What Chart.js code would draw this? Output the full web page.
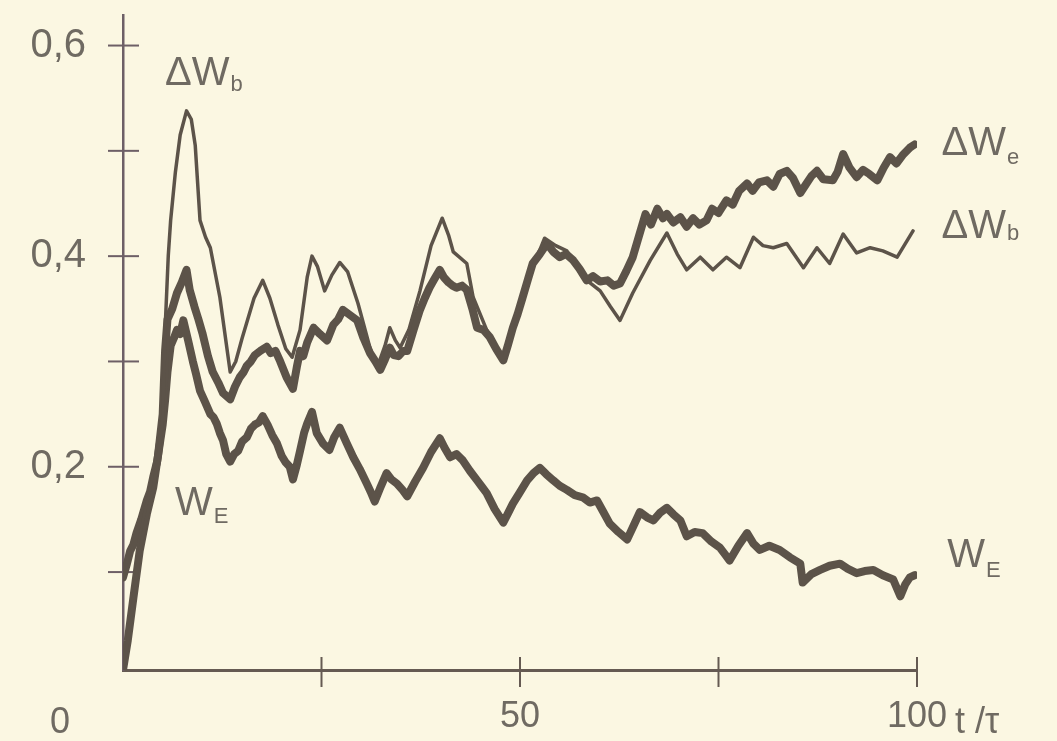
<!DOCTYPE html>
<html>
<head>
<meta charset="utf-8">
<script src="https://cdn.jsdelivr.net/npm/chart.js@4.4.1/dist/chart.umd.min.js"></script>
<style>
  html, body { margin: 0; padding: 0; background: #fbf7e2; }
  canvas { display: block; }
</style>
</head>
<body>
<canvas id="chart" width="1057" height="741"></canvas>
<script>
// dimensionless time t/τ and energies

// ΔW_b (thin curve)
const tWb = [0, 0.6, 1.3, 2.1, 3.0, 3.8, 4.4, 5.0, 5.3, 5.7, 6.0, 6.6, 7.2, 8.0, 8.6, 9.1, 9.7, 10.4, 11.0, 12.2,
  13.5, 14.2, 15.0, 16.5, 17.6, 18.5, 19.5, 20.5, 21.3, 22.3, 23.2, 23.8, 24.5, 25.4, 26.3, 27.3, 28.3, 29.6, 31.1, 32.0,
  33.0, 33.6, 34.3, 34.9, 36.0, 37.4, 38.8, 40.2, 41.0, 41.6, 43.3, 44.1, 45.8, 47.9, 49.1, 50.3, 51.6, 53.1, 54.5, 55.9,
  57.9, 60.1, 61.4, 62.6, 64.2, 66.4, 68.5, 69.8, 71.0, 72.7, 74.3, 76.0, 77.7, 79.4, 80.6, 81.9, 83.6, 85.7, 87.4, 89.0,
  90.7, 92.4, 94.1, 95.7, 97.5, 99.5];
const vWb = [0.007, 0.035, 0.073, 0.12, 0.152, 0.178, 0.206, 0.247, 0.33, 0.40, 0.434, 0.48, 0.515, 0.538, 0.53, 0.505, 0.434, 0.418, 0.408, 0.361,
  0.29, 0.30, 0.322, 0.36, 0.377, 0.36, 0.335, 0.312, 0.304, 0.33, 0.38, 0.40, 0.39, 0.367, 0.382, 0.394, 0.385, 0.355, 0.313, 0.294,
  0.315, 0.332, 0.32, 0.313, 0.33, 0.367, 0.41, 0.436, 0.42, 0.404, 0.393, 0.361, 0.33, 0.30, 0.336, 0.36, 0.389, 0.417, 0.41, 0.405,
  0.38, 0.367, 0.352, 0.339, 0.365, 0.396, 0.422, 0.402, 0.387, 0.399, 0.387, 0.399, 0.389, 0.418, 0.41, 0.408, 0.412, 0.389, 0.408, 0.393,
  0.421, 0.403, 0.408, 0.405, 0.399, 0.424];

// ΔW_e (thick upper curve)
const tWe = [0, 0.6, 1.3, 2.1, 3.0, 3.8, 4.4, 5.0, 5.3, 5.6, 6.2, 6.8, 7.4, 8.0, 8.4, 9.0, 9.5, 10.0, 10.7, 11.3,
  12.0, 12.6, 13.5, 14.1, 14.7, 15.2, 15.6, 16.1, 16.6, 17.3, 18.1, 18.6, 19.2, 19.8, 20.6, 21.4, 21.9, 22.3, 22.7, 23.2,
  24.0, 24.8, 25.7, 26.5, 27.1, 27.7, 28.6, 29.5, 30.3, 31.1, 31.8, 32.4, 33.0, 33.6, 34.1, 34.7, 35.3, 35.8, 36.6, 37.4,
  38.0, 38.6, 39.2, 39.9, 40.4, 41.0, 41.5, 42.0, 42.7, 43.3, 44.0, 44.6, 45.4, 46.2, 47.0, 47.9, 48.5, 49.1, 49.7, 50.3,
  51.0, 51.6, 52.5, 53.4, 54.2, 55.0, 55.8, 56.7, 57.5, 58.4, 59.2, 60.1, 61.0, 61.8, 62.6, 63.4, 64.2, 65.1, 65.8, 66.5,
  67.3, 68.0, 68.5, 69.3, 70.2, 71.0, 71.8, 72.6, 73.5, 74.2, 75.0, 76.0, 76.8, 77.6, 78.6, 79.3, 80.1, 81.1, 81.9, 82.7,
  83.6, 84.4, 85.3, 86.0, 86.7, 87.4, 88.2, 89.4, 90.0, 90.7, 91.5, 92.4, 93.2, 94.0, 95.0, 95.8, 96.6, 97.4, 98.2, 99.1, 99.7];
const vWe = [0.007, 0.035, 0.075, 0.12, 0.155, 0.18, 0.21, 0.25, 0.31, 0.34, 0.35, 0.365, 0.375, 0.387, 0.368, 0.352, 0.34, 0.327, 0.305, 0.29,
  0.28, 0.27, 0.264, 0.276, 0.285, 0.29, 0.296, 0.30, 0.306, 0.31, 0.314, 0.308, 0.31, 0.30, 0.285, 0.274, 0.295, 0.31, 0.305, 0.318,
  0.332, 0.326, 0.32, 0.335, 0.34, 0.349, 0.344, 0.339, 0.322, 0.308, 0.30, 0.292, 0.302, 0.313, 0.306, 0.305, 0.31, 0.31, 0.33, 0.349,
  0.36, 0.37, 0.378, 0.387, 0.38, 0.375, 0.372, 0.37, 0.372, 0.368, 0.35, 0.332, 0.33, 0.323, 0.312, 0.301, 0.316, 0.332, 0.345, 0.36,
  0.378, 0.393, 0.402, 0.412, 0.404, 0.399, 0.402, 0.396, 0.388, 0.377, 0.381, 0.376, 0.377, 0.372, 0.374, 0.386, 0.399, 0.422, 0.44, 0.43,
  0.445, 0.436, 0.44, 0.432, 0.437, 0.428, 0.436, 0.43, 0.434, 0.445, 0.441, 0.453, 0.449, 0.462, 0.469, 0.462, 0.47, 0.472, 0.466, 0.478,
  0.481, 0.474, 0.46, 0.468, 0.476, 0.481, 0.473, 0.472, 0.48, 0.497, 0.484, 0.475, 0.482, 0.478, 0.472, 0.484, 0.494, 0.488, 0.496, 0.503, 0.506];

// W_E (thick lower curve)
const tE = [0, 0.5, 0.9, 1.3, 1.7, 2.3, 3.0, 3.4, 3.8, 4.3, 4.7, 5.0, 5.3, 5.6, 6.0, 6.4, 6.8, 7.2, 7.6, 8.2,
  8.8, 9.2, 9.7, 10.3, 11.0, 11.4, 11.8, 12.2, 12.6, 13.0, 13.5, 14.0, 14.5, 15.0, 15.6, 16.1, 16.6, 17.1, 17.6, 18.2,
  18.8, 19.4, 20.0, 20.5, 21.0, 21.4, 21.9, 22.3, 22.8, 23.2, 23.8, 24.4, 25.2, 26.0, 26.6, 27.3, 28.2, 29.0, 29.8, 30.7,
  31.2, 31.7, 32.4, 33.2, 33.8, 34.5, 35.2, 35.8, 36.8, 37.8, 38.8, 39.9, 40.5, 41.2, 42.0, 42.8, 43.7, 44.6, 45.2, 45.8,
  46.8, 47.9, 48.5, 49.1, 50.0, 50.9, 51.7, 52.5, 53.3, 54.2, 55.0, 55.9, 56.9, 57.9, 58.8, 59.7, 60.5, 61.3, 62.4, 63.5,
  64.3, 65.1, 66.0, 66.8, 67.6, 68.5, 69.3, 70.2, 71.0, 72.0, 73.0, 74.1, 75.2, 75.8, 76.4, 77.5, 78.6, 79.4, 80.2, 81.4,
  82.7, 84.0, 85.3, 85.6, 86.7, 87.8, 89.0, 90.3, 91.3, 92.4, 93.4, 94.5, 95.7, 97.0, 97.9, 98.5, 99.1, 99.7];
const vE = [0.095, 0.108, 0.12, 0.126, 0.137, 0.15, 0.168, 0.176, 0.19, 0.205, 0.225, 0.24, 0.263, 0.29, 0.315, 0.322, 0.33, 0.326, 0.339, 0.32,
  0.30, 0.288, 0.272, 0.262, 0.25, 0.247, 0.241, 0.232, 0.225, 0.212, 0.205, 0.212, 0.215, 0.224, 0.228, 0.236, 0.24, 0.242, 0.248, 0.24,
  0.23, 0.222, 0.21, 0.204, 0.20, 0.188, 0.202, 0.215, 0.232, 0.241, 0.252, 0.232, 0.222, 0.216, 0.228, 0.237, 0.222, 0.209, 0.198, 0.184,
  0.176, 0.167, 0.18, 0.194, 0.188, 0.184, 0.178, 0.172, 0.186, 0.199, 0.214, 0.227, 0.218, 0.209, 0.212, 0.206, 0.196, 0.187, 0.181, 0.175,
  0.16, 0.147, 0.156, 0.165, 0.176, 0.187, 0.194, 0.199, 0.193, 0.187, 0.182, 0.178, 0.173, 0.171, 0.166, 0.168, 0.157, 0.146, 0.138, 0.131,
  0.144, 0.157, 0.152, 0.149, 0.156, 0.161, 0.155, 0.149, 0.134, 0.138, 0.137, 0.129, 0.123, 0.117, 0.111, 0.125, 0.137, 0.127, 0.121, 0.125,
  0.121, 0.114, 0.108, 0.09, 0.098, 0.102, 0.106, 0.108, 0.103, 0.099, 0.101, 0.102, 0.097, 0.093, 0.077, 0.088, 0.095, 0.097];

const yTicks = [0.1, 0.2, 0.3, 0.4, 0.5, 0.6];
const yLabelled = [0.2, 0.4, 0.6];
const xTicks = [25, 50, 75, 100];
const xLabelled = [50, 100];

const ink = "#5c5349";
const textInk = "#6f6a62";
const font = "'Liberation Sans', Arial, sans-serif";

function pts(ts, vs) {
  return ts.map((t, i) => ({ x: t, y: vs[i] }));
}

// curve labels: [main, subscript, t, value, subscript drop]
const curveLabels = [
  ["ΔW", "b", 5.3, 0.563, 6],
  ["ΔW", "e", 103.1, 0.496, 9],
  ["ΔW", "b", 103.1, 0.417, 2],
  ["W", "E", 103.8, 0.105, 10],
  ["W", "E", 6.55, 0.154, 8],
];

const axisDecor = {
  id: "axisDecor",
  beforeDatasetsDraw(chart) {
    const { ctx, chartArea: a, scales } = chart;
    ctx.save();
    ctx.lineWidth = 2;
    ctx.strokeStyle = "#6d5f66";
    yTicks.forEach((v) => {
      const py = scales.y.getPixelForValue(v);
      ctx.beginPath();
      ctx.moveTo(a.left - 15, py);
      ctx.lineTo(a.left + 16, py);
      ctx.stroke();
    });
    ctx.strokeStyle = "#655a52";
    xTicks.forEach((t) => {
      const px = scales.x.getPixelForValue(t);
      ctx.beginPath();
      ctx.moveTo(px, a.bottom - 13);
      ctx.lineTo(px, a.bottom + 17);
      ctx.stroke();
    });
    ctx.restore();
  },
  afterDraw(chart) {
    const { ctx, chartArea: a, scales } = chart;
    ctx.save();
    ctx.fillStyle = textInk;
    ctx.textBaseline = "alphabetic";
    ctx.textAlign = "left";
    curveLabels.forEach(([main, sub, t, v, dy]) => {
      const px = scales.x.getPixelForValue(t);
      const py = scales.y.getPixelForValue(v);
      ctx.font = "40px " + font;
      ctx.fillText(main, px, py);
      const w = ctx.measureText(main).width;
      ctx.font = "22px " + font;
      ctx.fillText(sub, px + w + 1, py + dy);
    });
    // origin label and axis name
    ctx.font = "36px " + font;
    ctx.textAlign = "center";
    ctx.fillText("0", scales.x.getPixelForValue(0) - 63, a.bottom + 63);
    ctx.textAlign = "left";
    ctx.fillText("t /τ", scales.x.getPixelForValue(100) + 38, a.bottom + 63);
    ctx.restore();
  },
};

const lineStyle = {
  pointRadius: 0,
  borderColor: ink,
  borderJoinStyle: "round",
  borderCapStyle: "round",
  tension: 0,
  fill: false,
};

new Chart(document.getElementById("chart"), {
  type: "line",
  data: {
    datasets: [
      { label: "ΔWb", data: pts(tWb, vWb), borderWidth: 3.5, ...lineStyle },
      { label: "ΔWe", data: pts(tWe, vWe), borderWidth: 8, ...lineStyle },
      { label: "WE", data: pts(tE, vE), borderWidth: 8, ...lineStyle },
    ],
  },
  options: {
    responsive: false,
    animation: false,
    layout: { padding: { top: 15, right: 140, left: 0, bottom: 0 } },
    plugins: { legend: { display: false }, tooltip: { enabled: false } },
    scales: {
      x: {
        type: "linear",
        min: 0,
        max: 100,
        afterFit: (s) => {
          s.height = 71;
          s.paddingLeft = 0;
          s.paddingRight = 0;
        },
        afterBuildTicks: (s) => { s.ticks = [0, 25, 50, 75, 100].map((v) => ({ value: v })); },
        border: { display: true, color: "#655a52", width: 3 },
        grid: { display: false, drawTicks: false },
        ticks: {
          padding: 29,
          maxRotation: 0,
          autoSkip: false,
          color: textInk,
          font: { family: font, size: 36, lineHeight: 1 },
          callback: (v) => (xLabelled.includes(v) ? String(v) : ""),
        },
      },
      y: {
        min: 0.007,
        max: 0.629,
        afterFit: (s) => {
          s.width = 123;
          s.paddingTop = 0;
          s.paddingBottom = 0;
        },
        afterBuildTicks: (s) => { s.ticks = yTicks.map((v) => ({ value: v })); },
        border: { display: true, color: "#6d5f66", width: 2.5 },
        grid: { display: false, drawTicks: false },
        ticks: {
          padding: 37,
          autoSkip: false,
          color: textInk,
          font: { family: font, size: 40, lineHeight: 0.7 },
          callback: (v) => (yLabelled.some((l) => Math.abs(l - v) < 1e-6) ? v.toFixed(1).replace(".", ",") : ""),
        },
      },
    },
  },
  plugins: [axisDecor],
});
</script>
</body>
</html>
